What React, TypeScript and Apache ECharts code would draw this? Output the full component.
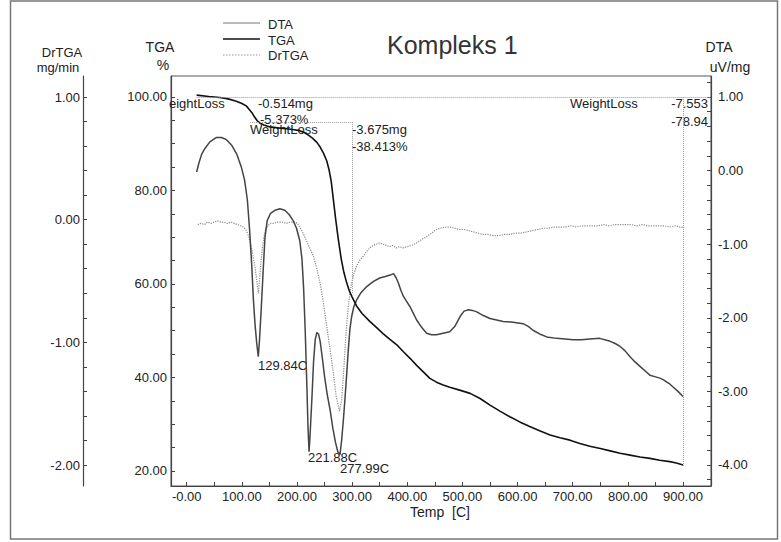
import React, { useEffect, useRef } from "react";
import * as echarts from "echarts";

// ---- data ----
const tgaData: [number, number][] = [
  [18, 100.4], [40, 100.1], [60, 99.9], [75, 99.6], [90, 99.1], [100, 98.6], [108, 98.1],
  [113, 97.4], [118, 96.7], [123, 95.7], [128, 94.9], [133, 94.4], [140, 94.0], [151, 93.6],
  [165, 93.4], [181, 93.2], [195, 93.0], [205, 92.8], [213, 92.4], [220, 91.9], [228, 91.2],
  [236, 90.3], [242, 89.3], [248, 88.0], [254, 86.3], [258, 84.5], [262, 82.0], [266, 78.0],
  [270, 74.0], [275, 69.5], [280, 65.5], [285, 62.5], [290, 60.3], [295, 58.5], [300, 57.2],
  [308, 55.3], [318, 53.7], [332, 52.0], [345, 50.6], [356, 49.4], [368, 48.2], [381, 47.0],
  [393, 45.5], [405, 44.1], [417, 42.6], [429, 41.2], [441, 39.8], [453, 39.0], [465, 38.4],
  [477, 37.9], [495, 37.3], [514, 36.6], [532, 35.5], [550, 34.1], [568, 32.8], [586, 31.6],
  [604, 30.5], [622, 29.5], [640, 28.6], [659, 27.7], [677, 27.1], [695, 26.6], [713, 25.9],
  [731, 25.3], [750, 24.8], [768, 24.3], [786, 23.8], [804, 23.4], [822, 23.0], [840, 22.7],
  [858, 22.3], [876, 22.0], [888, 21.7], [900, 21.3],
];

const dtaData: [number, number][] = [
  [18, -0.02], [22, 0.1], [27, 0.22], [33, 0.3], [42, 0.39], [54, 0.45], [63, 0.45], [72, 0.42],
  [82, 0.34], [91, 0.22], [99, 0.05], [105, -0.13], [110, -0.4], [114, -0.8], [118, -1.3],
  [121, -1.76], [124, -2.1], [127, -2.35], [129.8, -2.53], [132, -2.3], [135, -1.9], [139, -1.31],
  [142, -0.9], [146, -0.68], [152, -0.58], [160, -0.54], [169, -0.52], [178, -0.54], [186, -0.6],
  [193, -0.68], [199, -0.78], [205, -0.95], [209, -1.2], [212, -1.6], [215, -2.2], [218, -2.95],
  [220, -3.5], [221.9, -3.82], [224, -3.55], [227, -3.1], [230, -2.6], [233, -2.3], [236, -2.2],
  [239, -2.22], [242, -2.32], [246, -2.55], [250, -2.8], [255, -3.05], [260, -3.25], [265, -3.5],
  [270, -3.7], [274, -3.82], [278, -3.86], [281, -3.66], [284, -3.4], [287, -3.1], [290, -2.78],
  [293, -2.44], [296, -2.15], [299, -1.99], [303, -1.85], [308, -1.76], [316, -1.66], [326, -1.58],
  [338, -1.51], [350, -1.46], [360, -1.44], [369, -1.42], [375, -1.4], [380, -1.46], [384, -1.53],
  [388, -1.62], [393, -1.71], [399, -1.78], [405, -1.85], [411, -1.94], [417, -2.03], [426, -2.13],
  [435, -2.21], [444, -2.23], [453, -2.23], [465, -2.21], [477, -2.19], [486, -2.12], [496, -1.98],
  [503, -1.91], [511, -1.89], [518, -1.9], [526, -1.92], [538, -1.97], [550, -2.01], [562, -2.03],
  [574, -2.05], [592, -2.06], [610, -2.08], [620, -2.12], [628, -2.17], [640, -2.22], [653, -2.26],
  [671, -2.28], [686, -2.29], [701, -2.3], [716, -2.3], [731, -2.29], [749, -2.28], [768, -2.32],
  [777, -2.35], [786, -2.39], [795, -2.45], [804, -2.53], [813, -2.6], [822, -2.66], [831, -2.72],
  [840, -2.78], [849, -2.8], [858, -2.82], [864, -2.84], [870, -2.87], [876, -2.9], [882, -2.94],
  [891, -3.0], [900, -3.07],
];

const drtgaData: [number, number][] = [
  [20, -0.04], [26, -0.03], [32, -0.04], [38, -0.02], [44, -0.03], [50, -0.02], [56, -0.01],
  [62, -0.02], [68, -0.02], [74, -0.03], [80, -0.02], [86, -0.03], [92, -0.04], [98, -0.05],
  [103, -0.06], [108, -0.09], [112, -0.13], [116, -0.2], [120, -0.29], [124, -0.39], [127, -0.5],
  [130, -0.6], [132, -0.5], [134, -0.38], [137, -0.24], [140, -0.14], [143, -0.08], [147, -0.05],
  [152, -0.03], [158, -0.03], [165, -0.02], [172, -0.02], [180, -0.03], [188, -0.02], [196, -0.02],
  [201, -0.03], [205, -0.06], [210, -0.1], [217, -0.17], [223, -0.23], [230, -0.3], [236, -0.4],
  [242, -0.52], [248, -0.68], [254, -0.87], [260, -1.06], [266, -1.25], [271, -1.44], [277, -1.56],
  [281, -1.47], [284, -1.28], [287, -1.06], [290, -0.86], [293, -0.71], [296, -0.6], [299, -0.52],
  [303, -0.44], [308, -0.38], [314, -0.33], [320, -0.3], [326, -0.26], [332, -0.23], [338, -0.21],
  [344, -0.2], [350, -0.19], [356, -0.2], [362, -0.21], [368, -0.22], [374, -0.21], [380, -0.23],
  [386, -0.22], [393, -0.23], [400, -0.22], [408, -0.21], [417, -0.19], [426, -0.16], [435, -0.14],
  [444, -0.11], [453, -0.08], [460, -0.07], [468, -0.06], [477, -0.06], [486, -0.07], [495, -0.08],
  [503, -0.08], [512, -0.09], [520, -0.1], [528, -0.11], [537, -0.12], [546, -0.12], [556, -0.13],
  [566, -0.13], [576, -0.12], [586, -0.12], [596, -0.11], [606, -0.11], [616, -0.1], [626, -0.09],
  [636, -0.08], [646, -0.07], [656, -0.07], [666, -0.06], [676, -0.06], [686, -0.06], [696, -0.05],
  [706, -0.06], [716, -0.05], [726, -0.05], [736, -0.05], [746, -0.05], [756, -0.04], [766, -0.05],
  [776, -0.04], [786, -0.04], [796, -0.04], [806, -0.04], [816, -0.05], [826, -0.04], [836, -0.05],
  [846, -0.05], [856, -0.05], [866, -0.05], [876, -0.06], [886, -0.05], [894, -0.06], [900, -0.06],
];

// weight-loss annotation levels (TGA %)
const lossStep1Level = 94.627;
const lossStep2End = 58;
const lossFinalLevel = 21.06;

// ---- ticks / labels ----
const xLabels = [0, 100, 200, 300, 400, 500, 600, 700, 800, 900];
const xTicks = [0, 50, 100, 150, 200, 250, 300, 350, 400, 450, 500, 550, 600, 650, 700, 750, 800, 850, 900];
const tgaLabels = [20, 40, 60, 80, 100];
const tgaTicks = [20, 25, 30, 35, 40, 45, 50, 55, 60, 65, 70, 75, 80, 85, 90, 95, 100];
const drtgaLabels = [-2, -1, 0, 1];
const drtgaTicks = [-2, -1.8, -1.6, -1.4, -1.2, -1, -0.8, -0.6, -0.4, -0.2, 0, 0.2, 0.4, 0.6, 0.8, 1];
const dtaLabels = [-4, -3, -2, -1, 0, 1];
const dtaTicks = [
  -4.2, -4, -3.8, -3.6, -3.4, -3.2, -3, -2.8, -2.6, -2.4, -2.2, -2, -1.8, -1.6, -1.4, -1.2, -1,
  -0.8, -0.6, -0.4, -0.2, 0, 0.2, 0.4, 0.6, 0.8, 1, 1.2,
];

const seriesNames = ["DTA", "TGA", "DrTGA"];
const seriesColors = ["#444", "#111", "#8a8a8a"];
const legendColors = ["#777", "#111", "#999"];

const FONT = '"Liberation Sans", Arial, sans-serif';
const TXT = "#222";
const AX = "#444";

function fmt2(v: number) {
  return Number(v).toFixed(2);
}

function txt(text: string, x: number, y: number, size = 13, align = "left", extra: any = {}) {
  return {
    type: "text",
    x,
    y,
    z: 1,
    silent: true,
    style: {
      text,
      fill: TXT,
      fontSize: size,
      fontFamily: FONT,
      align,
      verticalAlign: "middle",
      ...extra,
    },
  };
}

function legendLine(i: number, y: number) {
  return {
    type: "line",
    silent: true,
    z: 1,
    shape: { x1: 223, y1: y, x2: 260, y2: y },
    style: {
      stroke: legendColors[i],
      lineWidth: i === 1 ? 1.6 : 1.2,
      lineDash: i === 2 ? [1.5, 1.5] : null,
    },
  };
}

export default function App() {
  const ref = useRef<HTMLDivElement>(null);

  useEffect(() => {
    document.body.style.margin = "0";
    if (!ref.current) return;
    const chart = echarts.init(ref.current, null, { renderer: "svg" });

    const axisLine = { show: true, onZero: false, lineStyle: { color: AX, width: 1.2 } };

    const option: any = {
      animation: false,
      backgroundColor: "#fff",
      textStyle: { fontFamily: FONT },
      grid: {
        left: 171,
        right: 70,
        top: 76,
        bottom: 56,
        show: true,
        borderColor: "#555",
        borderWidth: 1,
        backgroundColor: "transparent",
      },
      xAxis: {
        type: "value",
        min: -28.5,
        max: 950.8,
        axisLine,
        axisTick: { show: true, inside: true, length: 4, customValues: xTicks, lineStyle: { color: AX } },
        axisLabel: {
          customValues: xLabels,
          margin: 4,
          fontSize: 13,
          color: TXT,
          fontFamily: FONT,
          formatter: (v: number) => (v === 0 ? "-0.00" : fmt2(v)),
        },
        splitLine: { show: false },
      },
      yAxis: [
        {
          type: "value",
          position: "left",
          min: 16.79,
          max: 104.49,
          axisLine,
          axisTick: { show: true, inside: true, length: 4, customValues: tgaTicks, lineStyle: { color: AX } },
          axisLabel: { customValues: tgaLabels, margin: 4, fontSize: 13, color: TXT, fontFamily: FONT, formatter: fmt2 },
          splitLine: { show: false },
        },
        {
          type: "value",
          position: "left",
          offset: 88,
          min: -2.171,
          max: 1.1712,
          axisLine,
          axisTick: { show: true, inside: true, length: 4, customValues: drtgaTicks, lineStyle: { color: AX } },
          axisLabel: { customValues: drtgaLabels, margin: 3, fontSize: 13, color: TXT, fontFamily: FONT, formatter: fmt2 },
          splitLine: { show: false },
        },
        {
          type: "value",
          position: "right",
          min: -4.286,
          max: 1.285,
          axisLine,
          axisTick: { show: true, inside: true, length: 4, customValues: dtaTicks, lineStyle: { color: AX } },
          axisLabel: { customValues: dtaLabels, margin: 7, fontSize: 13, color: TXT, fontFamily: FONT, formatter: fmt2 },
          splitLine: { show: false },
        },
      ],
      series: [
        {
          name: seriesNames[0],
          type: "line",
          yAxisIndex: 2,
          data: dtaData,
          symbol: "none",
          showSymbol: false,
          color: seriesColors[0],
          lineStyle: { color: seriesColors[0], width: 1.5 },
          z: 3,
        },
        {
          name: seriesNames[1],
          type: "line",
          yAxisIndex: 0,
          data: tgaData,
          symbol: "none",
          showSymbol: false,
          color: seriesColors[1],
          lineStyle: { color: seriesColors[1], width: 1.6 },
          z: 4,
          markLine: {
            silent: true,
            symbol: ["none", "none"],
            label: { show: false },
            lineStyle: { type: "dotted", color: "#999", width: 1 },
            emphasis: { disabled: true },
            data: [
              [{ coord: [18, 100] }, { coord: [950, 100] }],
              [{ coord: [115, lossStep1Level] }, { coord: [300, lossStep1Level] }],
              [{ coord: [300, lossStep1Level] }, { coord: [300, lossStep2End] }],
              [{ coord: [900, 100] }, { coord: [900, lossFinalLevel] }],
            ],
          },
        },
        {
          name: seriesNames[2],
          type: "line",
          yAxisIndex: 1,
          data: drtgaData,
          symbol: "none",
          showSymbol: false,
          color: seriesColors[2],
          lineStyle: { color: seriesColors[2], width: 1.2, type: "dotted" },
          z: 2,
        },
      ],
      graphic: [
        {
          type: "rect",
          silent: true,
          z: 0,
          shape: { x: 10.5, y: 1, width: 767, height: 538 },
          style: { fill: "none", stroke: "#777", lineWidth: 1.5 },
        },
        legendLine(0, 23),
        legendLine(1, 39),
        legendLine(2, 55),
        txt(seriesNames[0], 268, 24, 13),
        txt(seriesNames[1], 268, 40, 13),
        txt(seriesNames[2], 268, 55, 13),
        txt("Kompleks 1", 387, 45, 25, "left", { fill: "#333" }),
        txt("DrTGA", 62, 52, 13, "center"),
        txt("mg/min", 58, 67, 13, "center"),
        txt("TGA", 160, 47, 14, "center"),
        txt("%", 163, 65, 14, "center"),
        txt("DTA", 719, 47, 14, "center"),
        txt("uV/mg", 730, 67, 14, "center"),
        txt("Temp  [C]", 440, 512, 14, "center"),
        txt("eightLoss", 169, 103),
        txt("-0.514mg", 258, 103),
        txt("-5.373%", 260, 119),
        txt("WeightLoss", 250, 129),
        txt("-3.675mg", 352, 129),
        txt("-38.413%", 352, 146),
        txt("WeightLoss", 570, 103),
        txt("-7.553", 708, 103, 13, "right"),
        txt("-78.94", 708, 121, 13, "right"),
        txt("129.84C", 258, 365),
        txt("221.88C", 308, 457),
        txt("277.99C", 340, 468),
      ],
    };

    chart.setOption(option);
    return () => chart.dispose();
  }, []);

  return <div ref={ref} style={{ width: 781, height: 542 }} />;
}
